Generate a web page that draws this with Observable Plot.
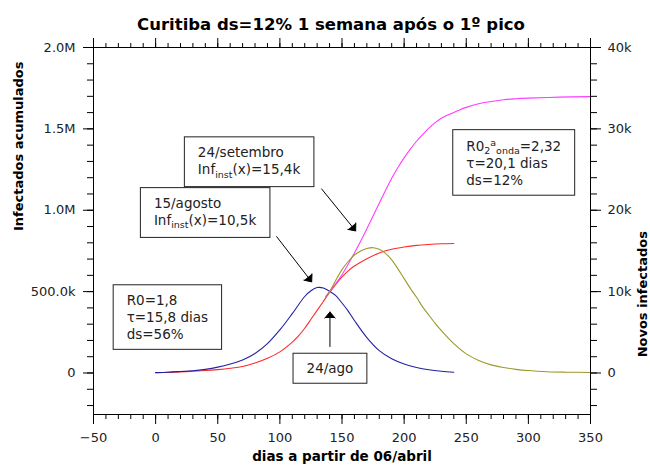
<!DOCTYPE html>
<html><head><meta charset="utf-8">
<script src="https://cdn.jsdelivr.net/npm/d3@7"></script>
<script src="https://cdn.jsdelivr.net/npm/@observablehq/plot@0.6"></script>
<style>body{margin:0;background:#fff;} svg{display:block}</style>
</head><body><div id="chart"></div>
<script>
// ---- text ----
const title = "Curitiba ds=12% 1 semana após o 1º pico";
const xTitle = "dias a partir de 06/abril";
const yLeftTitle = "Infectados acumulados";
const yRightTitle = "Novos infectados";

// ---- ticks ----
const xMajor = [-50, 0, 50, 100, 150, 200, 250, 300, 350];
const xMinor = d3.range(-50, 351, 10);
const yMajor = [0, 500000, 1000000, 1500000, 2000000];
const yMinor = d3.range(-200000, 2000001, 100000);
const RATIO = 50; // right axis value = left axis value / 50

// ---- series ----
// 1st wave, new infected per day (thousands, right axis)
const blueDays = [0,10,20,30,40,50,60,70,80,90,100,110,120,125,130,135,140,145,150,155,160,170,180,190,200,210,220,230,240];
const blueK    = [0.05,0.1,0.18,0.27,0.45,0.72,1.1,1.6,2.4,3.6,5.3,7.3,9.4,10.1,10.5,10.45,10.05,9.5,8.6,7.6,6.45,4.35,2.75,1.75,1.1,0.68,0.4,0.22,0.1];
// 1st wave, cumulative infected (thousands, left axis)
const redDays = [0,10,20,30,40,50,60,70,80,90,100,110,115,120,125,130,135,140,145,150,155,160,170,180,190,200,210,220,230,240];
const redK    = [2,4,7,11,15,21,29,40,61,90,130,190,228,275,330,385,440,495,545,590,628,657,702,738,760,774,784,790,794,796];
// 2nd wave, cumulative infected (thousands, left axis)
const magDays = [137,140,145,150,155,160,165,170,175,180,185,190,195,200,205,210,215,220,225,230,235,240,245,250,260,270,280,290,300,325,350];
const magK    = [469,500,550,604,668,738,810,886,964,1043,1121,1196,1263,1322,1376,1424,1466,1505,1538,1565,1585,1601,1618,1632,1654,1668,1679,1685,1689,1695,1698];
// 2nd wave, new infected per day (thousands, right axis)
const oliveDays = [137,140,145,150,155,160,165,170,175,180,185,190,195,200,205,210,215,220,225,230,240,250,260,270,280,290,300,315,330,350];
const oliveK    = [9.4,10.0,11.4,12.7,13.7,14.5,15.0,15.3,15.4,15.2,14.7,13.9,12.8,11.6,10.4,9.3,8.1,7.1,6.1,5.2,3.6,2.35,1.55,1.0,0.68,0.45,0.3,0.16,0.1,0.07];

// ---- annotations ----
const annText = [
  "R0=1,8\nτ=15,8 dias\nds=56%",
  "15/agosto\nInf_{inst}(x)=10,5k",
  "24/setembro\nInf_{inst}(x)=15,4k",
  "R0_{2}^{a}_{onda}=2,32\nτ=20,1 dias\nds=12%",
  "24/ago"
];
const annX = [-23.3, -1.4, 34, 250, 140.3];
const annY = [347000, 997000, 1309000, 1294000, 32500];
const annAnchor = ["start", "start", "start", "start", "middle"];
const arrX1 = [97.4, 133.6, 140.3];
const arrY1 = [838000, 1131000, 163000];
const arrX2 = [125.6, 161, 140.3];
const arrY2 = [560000, 873000, 375000];

const pts = (days, vals, f) => days.map((d, i) => ({d, v: vals[i] * f}));
const red = pts(redDays, redK, 1000);
const mag = pts(magDays, magK, 1000);
const blue = pts(blueDays, blueK, 1000 * RATIO);
const olive = pts(oliveDays, oliveK, 1000 * RATIO);
const ann = annText.map((t, i) => ({t, x: annX[i], y: annY[i], a: annAnchor[i]}));
const arrows = arrX1.map((x1, i) => ({x1, y1: arrY1[i], x2: arrX2[i], y2: arrY2[i]}));

const fmtX = d => d < 0 ? "\u2212" + (-d) : String(d);
const fmtL = v => v === 0 ? "0" : v >= 1e6 ? (v / 1e6).toFixed(1) + "M" : (v / 1e3).toFixed(1) + "k";
const fmtR = v => v === 0 ? "0" : (v / RATIO / 1000) + "k";

const lineOpts = {x: "d", y: "v", strokeWidth: 1.1, curve: "catmull-rom"};
const annOpts = {x: "x", y: "y", text: "t", lineAnchor: "middle", fontSize: 13.5, lineHeight: 1.28, fill: "#222"};

const plot = Plot.plot({
  width: 650, height: 467,
  marginTop: 47, marginBottom: 53, marginLeft: 93, marginRight: 60,
  style: {fontFamily: "'DejaVu Sans', sans-serif", fontSize: "13px", background: "white", color: "black"},
  x: {domain: [-50, 350]},
  y: {domain: [-255000, 2000000]},
  marks: [
    Plot.line(red, {...lineOpts, stroke: "#ff2a2a"}),
    Plot.line(blue, {...lineOpts, stroke: "#2222a0"}),
    Plot.line(mag, {...lineOpts, stroke: "#ff3cff"}),
    Plot.line(olive, {...lineOpts, stroke: "#9a9a2a"}),
    Plot.arrow(arrows, {x1: "x1", y1: "y1", x2: "x2", y2: "y2", stroke: "black", fill: "black",
      strokeWidth: 1, headLength: 12, headAngle: 80}),
    Plot.text(ann, {...annOpts, textAnchor: "start", filter: d => d.a === "start"}),
    Plot.text(ann, {...annOpts, textAnchor: "middle", filter: d => d.a === "middle"}),
    Plot.frame({stroke: "black"}),
    // bottom / top ticks
    Plot.axisX(xMajor, {anchor: "bottom", tickSize: 10, tickPadding: 8, tickFormat: fmtX, label: null, fill: "#222"}),
    Plot.axisX(xMinor, {anchor: "bottom", tickSize: 5, fill: "none"}),
    Plot.axisX(xMajor, {anchor: "top", tickSize: 10, fill: "none"}),
    Plot.axisX(xMinor, {anchor: "top", tickSize: 5, fill: "none"}),
    // left / right
    Plot.axisY(yMajor, {anchor: "left", tickSize: 10, tickPadding: 8, tickFormat: fmtL, label: null, fill: "#222"}),
    Plot.axisY(yMinor, {anchor: "left", tickSize: 6, fill: "none"}),
    Plot.axisY(yMajor, {anchor: "right", tickSize: 10, tickPadding: 7, tickFormat: fmtR, label: null, fill: "#222"}),
    Plot.axisY(yMinor, {anchor: "right", tickSize: 6, fill: "none"}),
    // titles
    Plot.text([title], {frameAnchor: "top", dy: -29, dx: -11, fontWeight: "bold", fontSize: 16.5, fill: "black"}),
    Plot.text([xTitle], {frameAnchor: "bottom", dy: 46, fontWeight: "bold", fontSize: 13.5, fill: "black"}),
    Plot.text([yLeftTitle], {frameAnchor: "left", dx: -75, rotate: -90, fontWeight: "bold", fontSize: 13, fill: "black"}),
    Plot.text([yRightTitle], {frameAnchor: "right", dx: 52, rotate: -90, fontWeight: "bold", fontSize: 13, fill: "black"})
  ]
});
document.getElementById("chart").appendChild(plot);

// sub/superscripts and boxes around annotations
const NS = "http://www.w3.org/2000/svg";
const annKeys = annText.map(t => t.replace(/\n/g, ""));
function applyScripts(el) {
  const s = el.textContent;
  if (!/[_^]\{/.test(s)) return;
  el.textContent = "";
  const re = /([_^])\{([^}]*)\}/g;
  let last = 0, m, cur = 0;
  const add = (txt, shift, small) => {
    const t = document.createElementNS(NS, "tspan");
    t.textContent = txt;
    const dy = shift - cur;
    if (dy) t.setAttribute("dy", dy);
    if (small) t.setAttribute("font-size", "9.5px");
    cur = shift;
    el.appendChild(t);
  };
  while ((m = re.exec(s))) {
    if (m.index > last) add(s.slice(last, m.index), 0, false);
    add(m[2], m[1] === "_" ? 3.5 : -5, true);
    last = re.lastIndex;
  }
  if (last < s.length) add(s.slice(last), 0, false);
}
Array.from(plot.querySelectorAll("text")).forEach(text => {
  if (!annKeys.includes(text.textContent)) return;
  const spans = text.querySelectorAll(":scope > tspan");
  if (spans.length) spans.forEach(applyScripts); else applyScripts(text);
  const b = text.getBBox();
  const r = document.createElementNS(NS, "rect");
  r.setAttribute("x", b.x - 13.5);
  r.setAttribute("y", b.y - 7);
  r.setAttribute("width", b.width + 27);
  r.setAttribute("height", b.height + 14);
  r.setAttribute("fill", "white");
  r.setAttribute("stroke", "#222");
  r.setAttribute("stroke-width", 1);
  const tr = text.getAttribute("transform");
  if (tr) r.setAttribute("transform", tr);
  text.parentNode.insertBefore(r, text);
});
</script>
</body></html>
